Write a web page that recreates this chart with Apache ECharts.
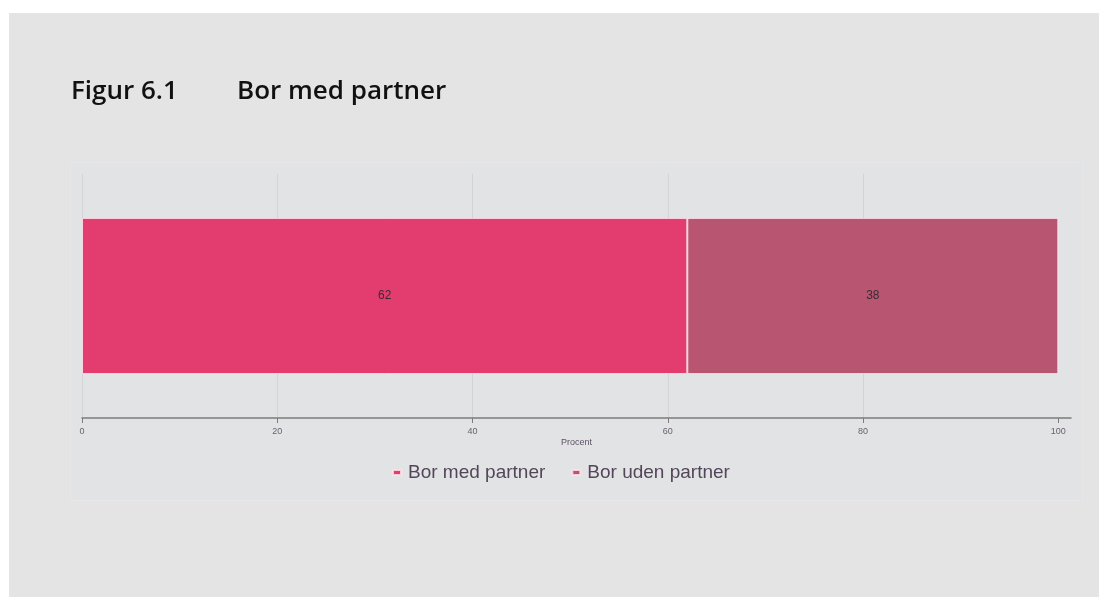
<!DOCTYPE html>
<html>
<head>
<meta charset="utf-8">
<title>Figur 6.1 Bor med partner</title>
<script src="https://cdn.jsdelivr.net/npm/echarts@6/dist/echarts.min.js"></script>
<style>
  html, body { margin: 0; padding: 0; background: #ffffff; }
  body { width: 1099px; height: 597px; position: relative; overflow: hidden; }
  #sheet { position: absolute; left: 9px; top: 13px; right: 0; bottom: 0; background: #e4e4e4; }
  #panel { position: absolute; left: 70px; top: 162px; width: 1011px; height: 337px;
           background: #e2e3e5; border: 1px solid #e7e7e9; }
  #chart { position: absolute; left: 0; top: 0; width: 1099px; height: 597px; }
</style>
</head>
<body>
<div id="sheet"></div>
<div id="panel"></div>
<div id="chart"></div>
<script>
// Andel der bor med / uden partner (procent)
const categories = ['I alt'];
const seriesNames = ['Bor med partner', 'Bor uden partner'];
const borMedPartner = [62];
const borUdenPartner = [38];
const xTicks = [0, 20, 40, 60, 80, 100];

const colors = ['#e33d6f', '#b85672'];

const chart = echarts.init(document.getElementById('chart'), null, { renderer: 'canvas' });

const labelStyle = {
  show: true,
  position: 'inside',
  color: '#3a2a36',
  fontFamily: 'Liberation Sans, Arial, sans-serif',
  fontSize: 12
};

const titleText = { fontFamily: 'Open Sans', fontWeight: 600, fontSize: 26, color: '#111111' };

chart.setOption({
  backgroundColor: 'transparent',
  animation: false,
  color: colors,
  title: [
    { text: 'Figur 6.1', left: 71, top: 79, padding: 0, textStyle: titleText },
    { text: 'Bor med partner', left: 237, top: 79, padding: 0, textStyle: titleText }
  ],
  legend: {
    data: seriesNames.map((n, i) => ({ name: n, itemStyle: { color: colors[i] } })),
    left: 387,
    top: 458,
    icon: 'rect',
    itemWidth: 8,
    itemHeight: 5,
    itemGap: 26,
    textStyle: {
      fontFamily: 'Liberation Sans, Arial, sans-serif', fontSize: 19, color: '#54465a',
      padding: [0, 0, 0, 2]
    }
  },
  grid: { left: 82, right: 28, top: 174, bottom: 179, containLabel: false },
  xAxis: {
    type: 'value',
    min: 0,
    max: 101.3,
    interval: 20,
    name: 'Procent',
    nameLocation: 'middle',
    nameGap: 20,
    nameTextStyle: { fontFamily: 'Liberation Sans, Arial, sans-serif', fontSize: 9, color: '#5e5266' },
    axisLine: { show: true, lineStyle: { color: '#7c7c7f', width: 1.5 } },
    axisTick: { show: true, length: 5, customValues: xTicks, lineStyle: { color: '#7c7c7f' } },
    axisLabel: {
      customValues: xTicks,
      margin: 9,
      fontFamily: 'Liberation Sans, Arial, sans-serif',
      fontSize: 9,
      color: '#6b5f6f'
    },
    splitLine: { show: true, showMaxLine: false, lineStyle: { color: '#d4d4d8', width: 1 } }
  },
  yAxis: {
    type: 'category',
    data: categories,
    axisLine: { show: false },
    axisTick: { show: false },
    axisLabel: { show: false }
  },
  series: [
    {
      name: seriesNames[0],
      type: 'bar',
      stack: 'total',
      data: borMedPartner,
      barWidth: '64%',
      itemStyle: { color: colors[0], borderColor: 'rgba(255,225,235,0.85)', borderWidth: 1 },
      label: labelStyle
    },
    {
      name: seriesNames[1],
      type: 'bar',
      stack: 'total',
      data: borUdenPartner,
      barWidth: '64%',
      itemStyle: { color: colors[1], borderColor: 'rgba(255,225,235,0.85)', borderWidth: 1 },
      label: labelStyle
    }
  ]
});
</script>
</body>
</html>
